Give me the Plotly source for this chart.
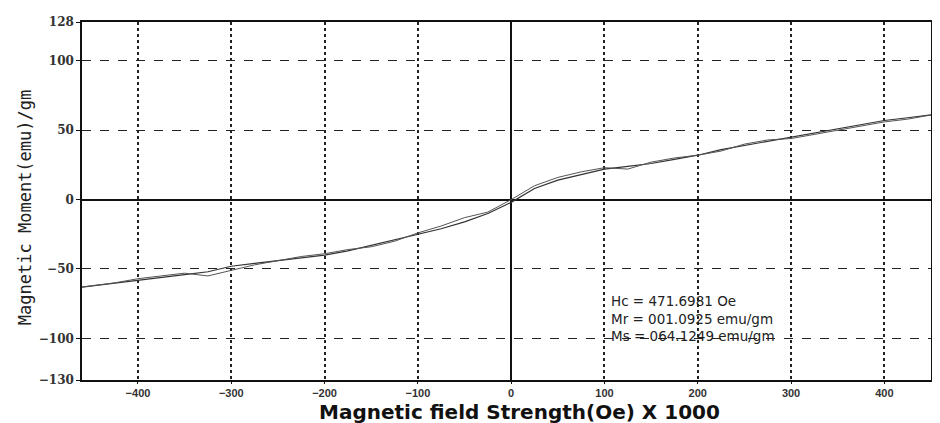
import plotly.graph_objects as go

field = [-460, -425, -400, -375, -350, -325, -300, -275, -250, -225, -200, -175, -150, -125,
         -100, -75, -50, -25, 0, 25, 50, 75, 100, 125, 150, 175, 200, 225, 250, 275, 300,
         325, 350, 375, 400, 425, 450]
branch_up = [-63, -60, -58, -56, -54, -52, -48, -46, -44, -42, -40, -37, -33, -29, -25, -21,
             -16, -10, -2, 8, 14, 18, 22, 24, 26, 29, 32, 36, 39, 42, 45, 48, 51, 54, 57, 59, 61]
branch_down = [-63, -60, -57, -55, -53, -55, -51, -47, -44, -41, -39, -36, -34, -30, -24, -19,
               -13, -9, 0, 10, 16, 20, 23, 22, 27, 30, 32, 35, 40, 43, 44, 47, 50, 53, 56, 58, 61]

x_ticks = [-400, -300, -200, -100, 0, 100, 200, 300, 400]
y_ticks = [-130, -100, -50, 0, 50, 100, 128]
info_lines = ["Hc = 471.6981 Oe", "Mr = 001.0925 emu/gm", "Ms = 064.1249 emu/gm"]
x_title = "Magnetic field Strength(Oe) X 1000"
y_title = "Magnetic Moment(emu)/gm"

fig = go.Figure()
fig.add_trace(go.Scatter(x=field, y=branch_up, mode="lines",
                         line=dict(color="#333333", width=1.2), showlegend=False))
fig.add_trace(go.Scatter(x=field, y=branch_down, mode="lines",
                         line=dict(color="#555555", width=1.0), showlegend=False))

fig.add_annotation(x=105, y=-86, xref="x", yref="y", text="<br>".join(info_lines),
                   showarrow=False, xanchor="left", yanchor="middle", align="left",
                   font=dict(family="DejaVu Sans", size=13.5, color="#222222"))

fig.add_annotation(x=0.515, y=0, xref="paper", yref="paper", text=x_title, showarrow=False,
                   xanchor="center", yanchor="top", yshift=-18,
                   font=dict(family="DejaVu Sans", size=20, color="#111111", weight="bold"))
fig.add_annotation(x=0, y=0.48, xref="paper", yref="paper", text=y_title, showarrow=False,
                   xanchor="center", yanchor="middle", xshift=-57, textangle=-90,
                   font=dict(family="DejaVu Sans Mono", size=17, color="#222222"))

fig.update_layout(
    width=932, height=415,
    margin=dict(l=74, r=7, t=12, b=43),
    paper_bgcolor="white", plot_bgcolor="white",
    xaxis=dict(range=[-460, 450], tickvals=x_ticks, showgrid=True, gridcolor="#222222",
               griddash="dot", gridwidth=1.5, zeroline=True, zerolinecolor="#111111",
               zerolinewidth=1.5, showline=True, linecolor="#111111", linewidth=1.5, mirror=True,
               ticks="outside", ticklen=2, tickcolor="#111111",
               tickfont=dict(family="Liberation Sans", size=11, color="#333333", weight="bold")),
    yaxis=dict(range=[-130, 128], tickvals=y_ticks, showgrid=True, gridcolor="#222222",
               griddash="dash", gridwidth=1, zeroline=True, zerolinecolor="#111111",
               zerolinewidth=1.5, showline=True, linecolor="#111111", linewidth=1.5, mirror=True,
               ticks="outside", ticklen=4, tickcolor="#111111",
               tickfont=dict(family="DejaVu Serif", size=12, color="#333333", weight="bold")),
)

fig.write_html("out.html")
